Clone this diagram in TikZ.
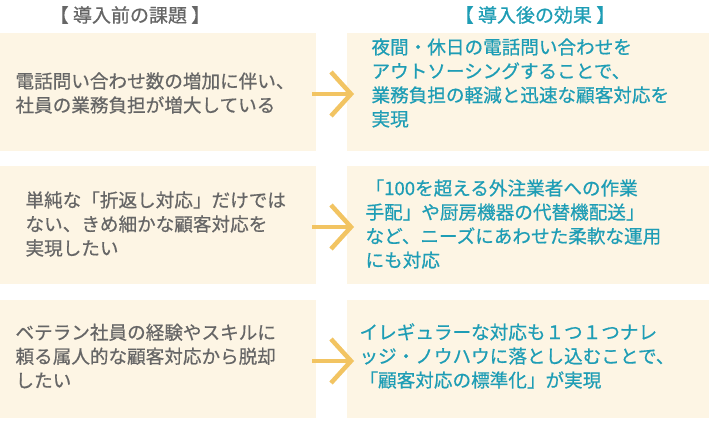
\documentclass[tikz,border=0pt]{standalone}
\usepackage{fontspec}
\usetikzlibrary{calc}
\newfontfamily\jp[FakeBold=0.6]{Noto Sans CJK JP}
\definecolor{boxc}{HTML}{FDF5E4}
\definecolor{graytx}{HTML}{666666}
\definecolor{tealtx}{HTML}{1E9DB5}
\definecolor{arrc}{HTML}{F2C462}
\tikzset{
 box/.style={fill=boxc,draw=none,minimum height=118pt,anchor=north west,inner sep=0pt},
 ltxt/.style={text=graytx,align=left,anchor=west,font=\jp\fontsize{18.6}{24}\selectfont},
 rtxt/.style={text=tealtx,align=left,anchor=west,font=\jp\fontsize{18.6}{24}\selectfont},
 arr/.style={draw=arrc,line width=4.5pt},
}
\begin{document}
\begin{tikzpicture}[x=1pt,y=-1pt]
\useasboundingbox[fill=white] (0,0) rectangle (709,429);
\node[text=graytx,font=\jp\fontsize{19}{22}\selectfont] (h1) at (130,15) {【 導入前の課題 】};
\node[text=tealtx,font=\jp\fontsize{19}{22}\selectfont] (h2) at (535,15) {【 導入後の効果 】};
\foreach \i/\y in {1/33,2/166,3/300}{
 \node[box,minimum width=316pt] (L\i) at (0,\y) {};
 \node[box,minimum width=362pt] (R\i) at (347,\y) {};
 \coordinate (a\i) at (312,\y+61);
 \coordinate (b\i) at (352,\y+61);
 \draw[arr] (a\i) -- (b\i);
 \draw[arr,line join=miter] ($(b\i)+(-21,-22)$) -- ($(b\i)+(-1,0)$) -- ($(b\i)+(-21,22)$);
}
\node[ltxt] (t1) at (12,93) {電話問い合わせ数の増加に伴い、\\社員の業務負担が増大している};
\node[ltxt] (t2) at (22,224) {単純な「折返し対応」だけでは\\ない、きめ細かな顧客対応を\\実現したい};
\node[ltxt] (t3) at (12,356) {ベテラン社員の経験やスキルに\\頼る属人的な顧客対応から脱却\\したい};
\node[rtxt] (u1) at (368,83) {夜間・休日の電話問い合わせを\\アウトソーシングすることで、\\業務負担の軽減と迅速な顧客対応を\\実現};
\node[rtxt] (u2) at (362,224) {「100を超える外注業者への作業\\手配」や厨房機器の代替機配送」\\など、ニーズにあわせた柔軟な運用\\にも対応};
\node[rtxt] (u3) at (356,356) {イレギュラーな対応も１つ１つナレ\\ッジ・ノウハウに落とし込むことで、\\「顧客対応の標準化」が実現};
\end{tikzpicture}
\end{document}
